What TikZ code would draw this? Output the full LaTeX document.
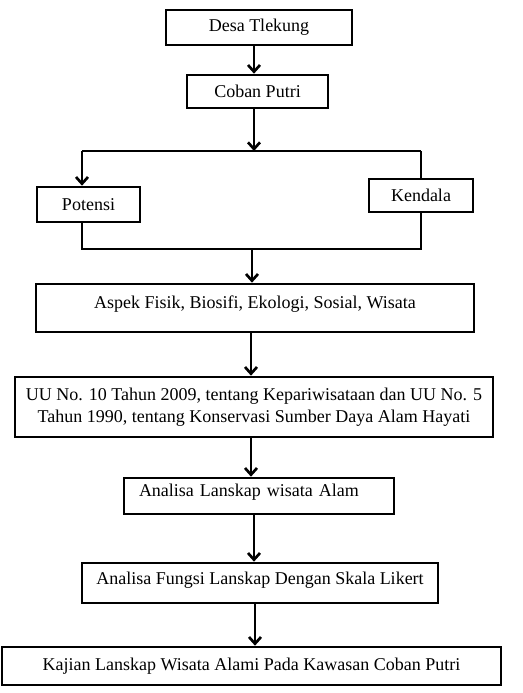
\documentclass[tikz,border=0pt]{standalone}
\usepackage{fontspec}
\setmainfont{Liberation Serif}
\usetikzlibrary{arrows.meta}
\begin{document}
\begin{tikzpicture}[x=0.75pt,y=-0.75pt,line width=2pt,
    box/.style={draw,rectangle,inner sep=2pt,font=\fontsize{13.5}{16.5}\selectfont},
    arr/.style={-{Straight Barb[length=5pt,width=9pt]}}]
            \useasboundingbox (0,0) rectangle (523,693);
            \node[box,minimum width=139.5pt,minimum height=26.25pt] (desa) at (259,27.5) {Desa Tlekung};
            \node[box,minimum width=105.75pt,minimum height=24.75pt] (coban) at (257.5,91.5) {Coban Putri};
            \node[box,minimum width=77.25pt,minimum height=26.25pt] (potensi) at (88.5,204.5) {Potensi};
            \node[box,minimum width=78pt,minimum height=24.75pt] (kendala) at (421,195.5) {Kendala};
            \node[box,minimum width=328.5pt,minimum height=36pt,text depth=9pt] (aspek) at (255,308) {Aspek Fisik, Biosifi, Ekologi, Sosial, Wisata};
            \node[box,minimum width=358.5pt,minimum height=45pt,align=center] (uu) at (254,407) {UU No. 10 Tahun 2009, tentang Kepariwisataan dan UU No. 5\\Tahun 1990, tentang Konservasi Sumber Daya Alam Hayati};
            \node[box,minimum width=202.5pt,minimum height=27pt,text depth=9pt,text width=180pt,align=left] (lanskap) at (259,496) {Analisa Lanskap wisata Alam};
            \node[box,minimum width=267pt,minimum height=30pt,text depth=7pt] (fungsi) at (260,583) {Analisa Fungsi Lanskap Dengan Skala Likert};
            \node[box,minimum width=374.25pt,minimum height=28.5pt] (kajian) at (251.5,666) {Kajian Lanskap Wisata Alami Pada Kawasan Coban Putri};
            % cabang potensi / kendala
            \coordinate (split) at (254,151);
            \coordinate (splitL) at (82,151);
            \coordinate (splitR) at (421,151);
            \coordinate (joinL) at (82,249);
            \coordinate (joinR) at (421,249);
            \coordinate (join) at (252,249);
            \draw[arr] (desa.south -| 254,0) -- (coban.north -| 254,0);
            \draw[arr] (coban.south -| split) -- (split);
            \draw (splitL) -- (splitR);
            \draw[arr] (splitL) -- (splitL |- potensi.north);
            \draw (splitR) -- (kendala.north);
            \draw (splitL |- potensi.south) -- (joinL) -- (joinR) -- (kendala.south);
            \draw[arr] (join) -- (join |- aspek.north);
            \draw[arr] (aspek.south -| 251,0) -- (uu.north -| 251,0);
            \draw[arr] (uu.south -| 251,0) -- (lanskap.north -| 251,0);
            \draw[arr] (lanskap.south -| 254,0) -- (fungsi.north -| 254,0);
            \draw[arr] (fungsi.south -| 255,0) -- (kajian.north -| 255,0);
        \end{tikzpicture}
\end{document}
